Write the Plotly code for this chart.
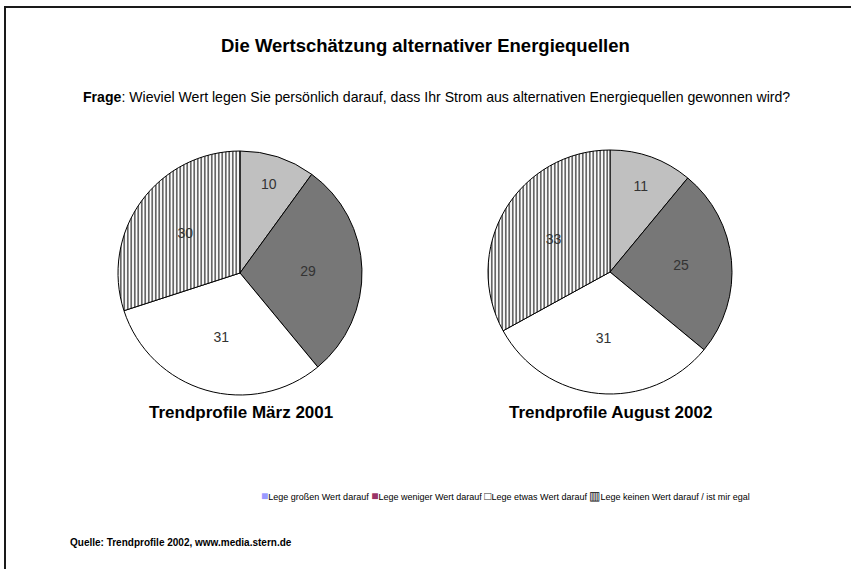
import plotly.graph_objects as go

categories = ["Lege großen Wert darauf", "Lege weniger Wert darauf",
              "Lege etwas Wert darauf", "Lege keinen Wert darauf / ist mir egal"]
values_2001 = [10, 29, 31, 30]
values_2002 = [11, 25, 31, 33]
pie_titles = ["Trendprofile März 2001", "Trendprofile August 2002"]
slice_colors = ["#c0c0c0", "#777777", "#ffffff", "#ffffff"]
legend_colors = ["#9999ff", "#993366", "#333333", "#000000"]
legend_symbols = ["■", "■", "□", "▥"]

FONT = "Liberation Sans, Arial, sans-serif"
W, H = 851, 569

def pie(vals, cx, cy, r):
    return go.Pie(
        labels=categories, values=vals, sort=False, direction="clockwise",
        rotation=0, textinfo="value", textposition="inside",
        insidetextorientation="horizontal",
        textfont=dict(family=FONT, size=14, color="#333333"),
        marker=dict(colors=slice_colors,
                    line=dict(color="#000000", width=1),
                    pattern=dict(shape=["", "", "", "|"], fgcolor="#000000",
                                 bgcolor="#ffffff", size=3.5, solidity=0.3)),
        domain=dict(x=[(cx - r) / W, (cx + r) / W], y=[1 - (cy + r) / H, 1 - (cy - r) / H]),
        showlegend=False, hoverinfo="label+value",
    )

fig = go.Figure()
fig.add_trace(pie(values_2001, 240, 273, 122))
fig.add_trace(pie(values_2002, 610, 272, 122))

def txt(x, y, text, size, xanchor="center"):
    return dict(x=x / W, y=1 - y / H, xref="paper", yref="paper", showarrow=False,
                xanchor=xanchor, yanchor="middle", text=text,
                font=dict(family=FONT, size=size, color="#000000"))

ann = [
    txt(425, 46, "<b>Die Wertschätzung alternativer Energiequellen</b>", 18.5),
    txt(436, 97, "<b>Frage</b>: Wieviel Wert legen Sie persönlich darauf, dass Ihr Strom aus alternativen Energiequellen gewonnen wird?", 14.1),
]
for t, cx in zip(pie_titles, [241, 610]):
    ann.append(txt(cx, 412, "<b>" + t + "</b>", 17))

legend_text = " ".join(
    f"<span style='color:{c};font-size:12px'>{s}</span>{cat}"
    for c, s, cat in zip(legend_colors, legend_symbols, categories))
ann.append(txt(505, 496, legend_text, 9))
ann.append(txt(68, 542, "<b>Quelle: Trendprofile 2002, www.media.stern.de</b>", 10, xanchor="left"))

fig.update_layout(
    width=W, height=H, margin=dict(l=0, r=0, t=0, b=0),
    paper_bgcolor="#ffffff", plot_bgcolor="#ffffff",
    annotations=ann,
    shapes=[dict(type="rect", xref="paper", yref="paper",
                 x0=5 / W, x1=1.2, y0=-0.2, y1=1 - 7 / H,
                 line=dict(color="#1a1a1a", width=2))],
)
fig.write_html("out.html", config={"displayModeBar": False},
               post_script="document.body.style.margin='0';document.body.style.overflow='hidden';")
